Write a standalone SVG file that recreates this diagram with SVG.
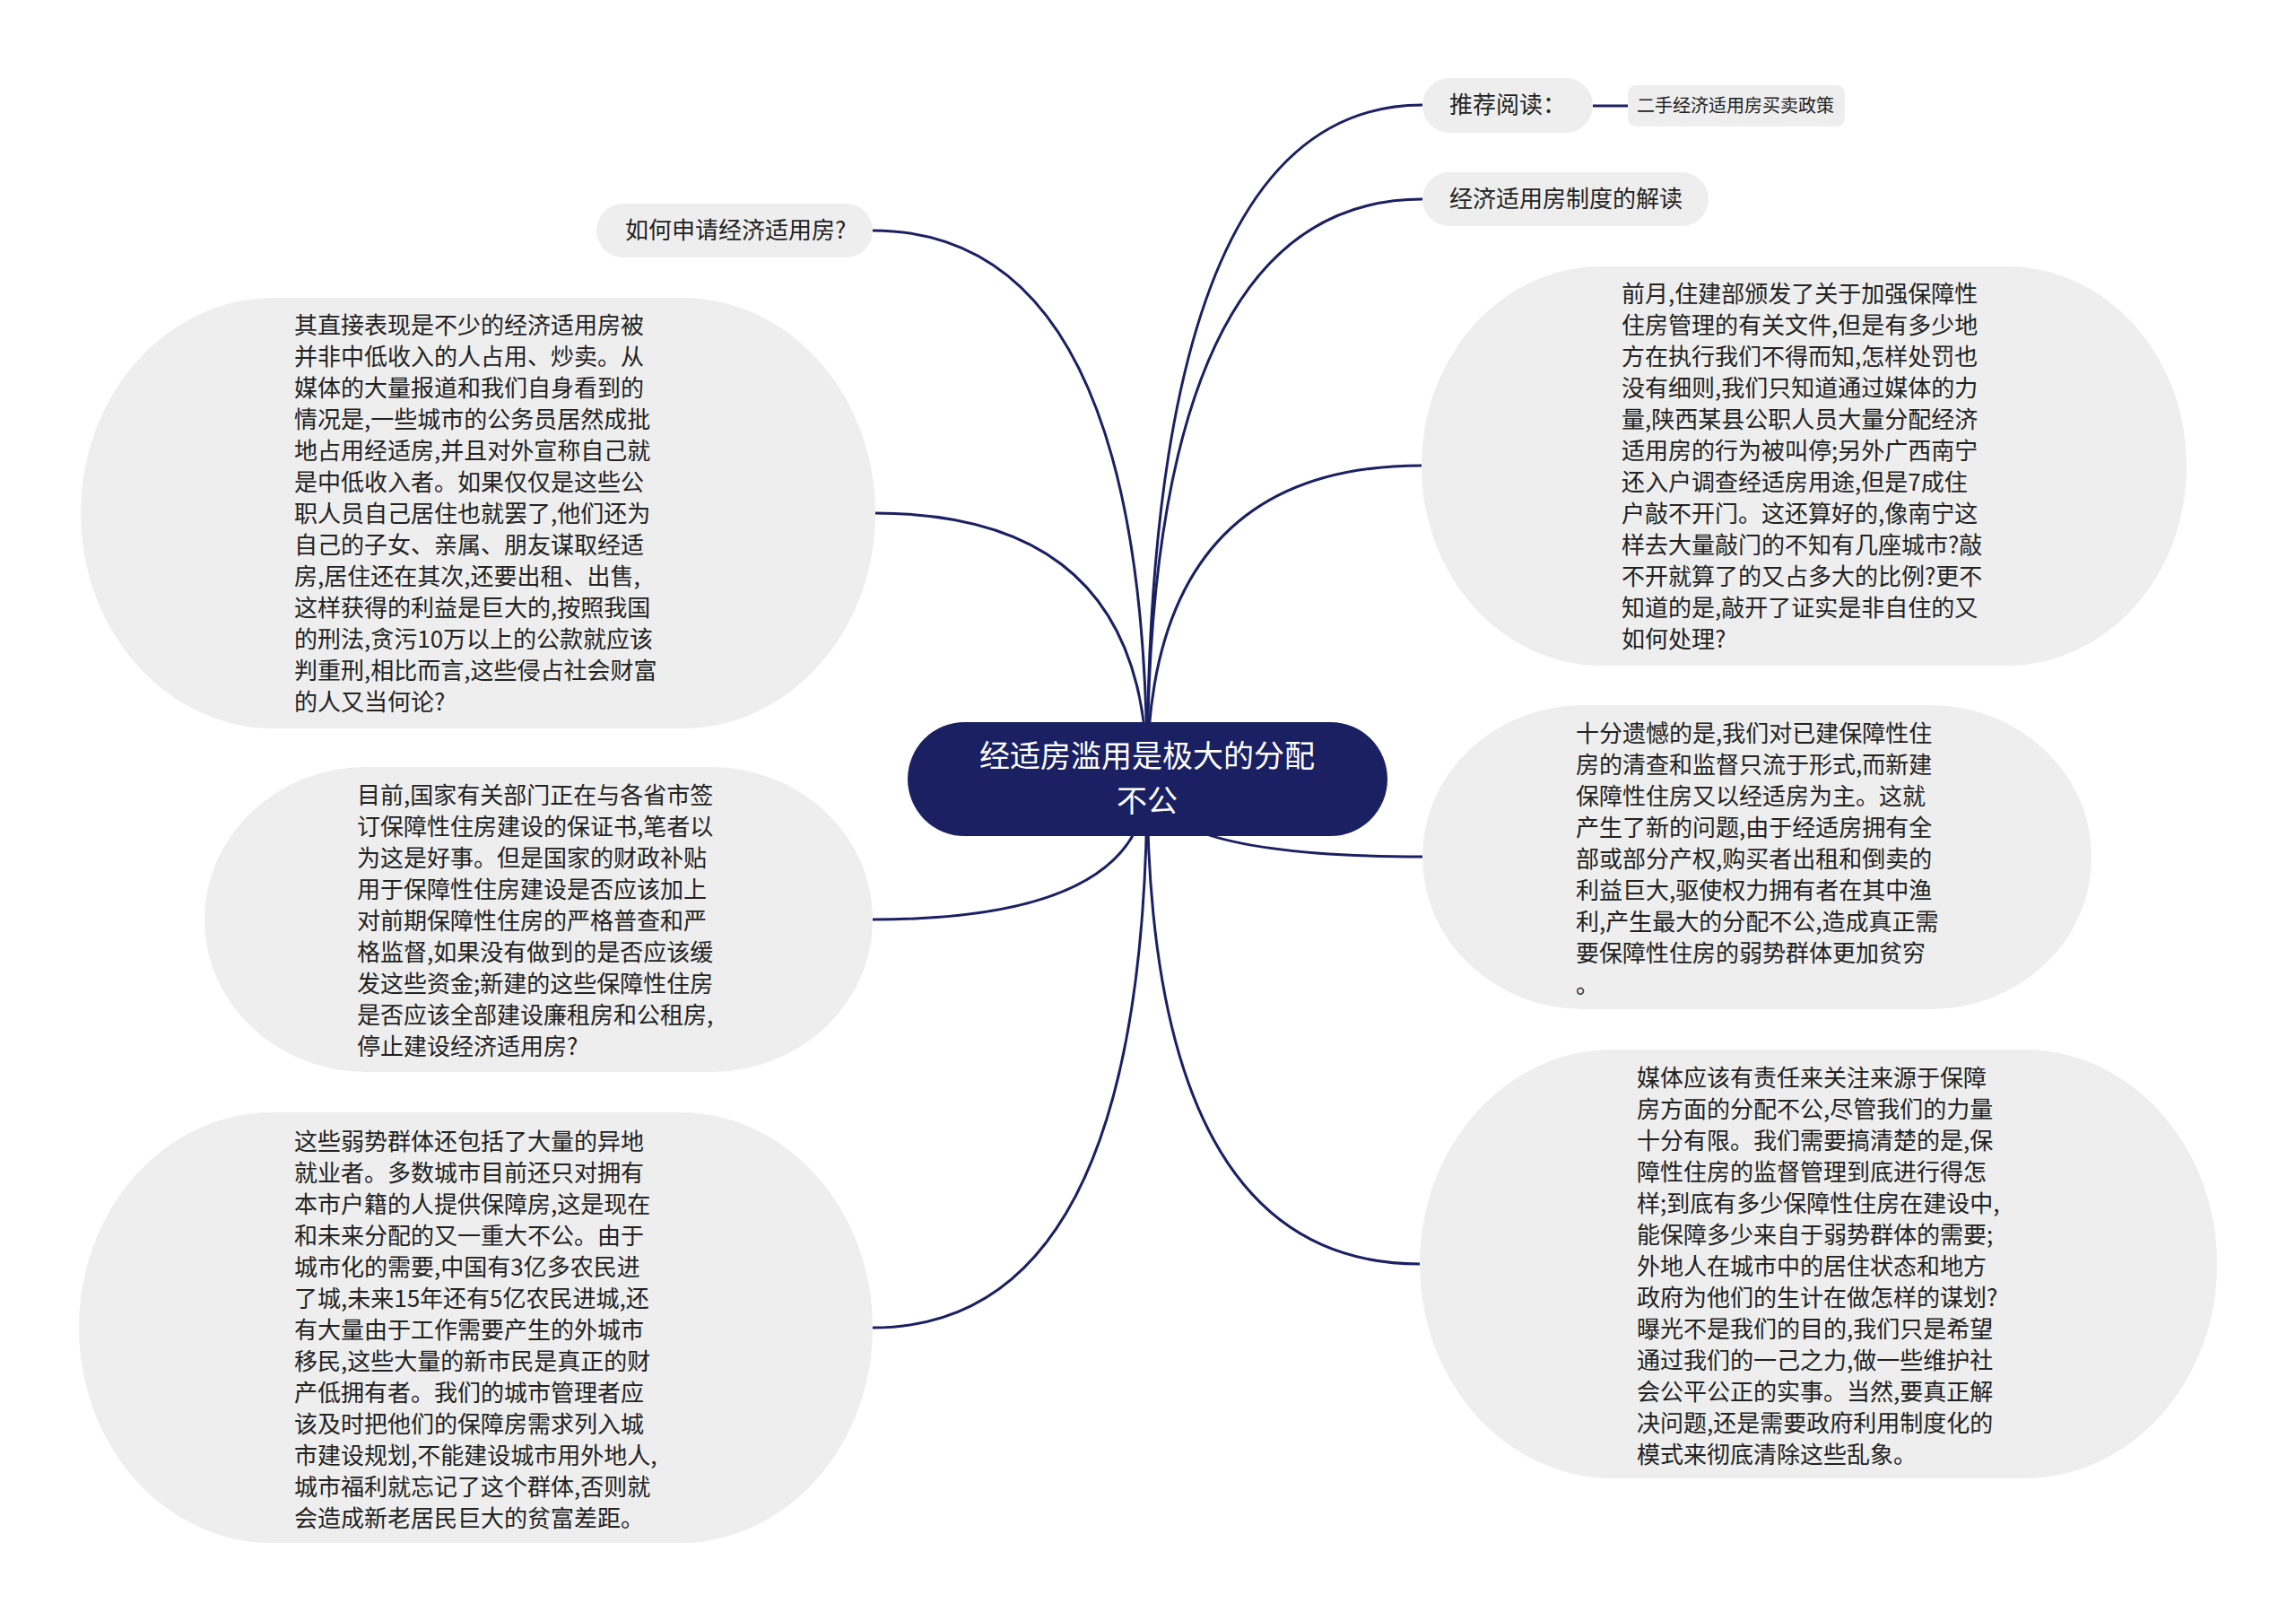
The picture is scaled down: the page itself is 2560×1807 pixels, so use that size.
<svg xmlns="http://www.w3.org/2000/svg" width="2560" height="1807" viewBox="0 0 2560 1807">
<style>
.bg{fill:#ffffff}
.link{fill:none;stroke:#1b2063;stroke-width:3}
.topic{fill:#eeeeee}
.root{fill:#1b2063}
.t{font-family:"Noto Sans CJK SC","Noto Sans",sans-serif;font-size:26px;fill:#222222}
.ts{font-family:"Noto Sans CJK SC","Noto Sans",sans-serif;font-size:20px;fill:#222222}
.tr{font-family:"Noto Sans CJK SC","Noto Sans",sans-serif;font-size:34px;fill:#ffffff;text-anchor:middle}
</style>
<rect class="bg" x="0" y="0" width="2560" height="1807"/>
<g id="connectors">
<path class="link" d="M1279 868 Q1279 117 1586 117"/>
<path class="link" d="M1279 868 Q1279 222 1586 222"/>
<path class="link" d="M1279 868 Q1279 519 1585 519"/>
<path class="link" d="M1279 868 Q1279 955 1586 955"/>
<path class="link" d="M1279 868 Q1279 1409 1583 1409"/>
<path class="link" d="M1279 868 Q1279 257 973 257"/>
<path class="link" d="M1279 868 Q1279 572 976 572"/>
<path class="link" d="M1279 868 Q1279 1025 973 1025"/>
<path class="link" d="M1279 868 Q1279 1480 973 1480"/>
<path class="link" d="M1776 118 L1815 118"/>
</g>
<g id="root">
<rect class="root" x="1012" y="805" width="535" height="127" rx="63.5"/>
<text class="tr" x="1279" y="855"><tspan x="1279" dy="0">经适房滥用是极大的分配</tspan><tspan x="1279" dy="50">不公</tspan></text>
</g>
<g id="n-tuijian">
<rect class="topic" x="1586" y="87" width="190" height="61" rx="30.5"/>
<text class="t" x="1616" y="126">推荐阅读：</text>
</g>
<g id="n-ershou">
<rect class="topic" x="1815" y="95" width="242" height="46" rx="9"/>
<text class="ts" x="1825" y="125">二手经济适用房买卖政策</text>
</g>
<g id="n-jiedu">
<rect class="topic" x="1586" y="192" width="319" height="60" rx="30"/>
<text class="t" x="1616" y="231">经济适用房制度的解读</text>
</g>
<g id="n-ruhe">
<rect class="topic" x="665" y="227" width="308" height="60" rx="30"/>
<text class="t" x="697" y="266">如何申请经济适用房?</text>
</g>
<g id="n-left1">
<rect class="topic" x="90" y="332" width="886" height="480" rx="215" ry="240"/>
<text class="t" x="328" y="372">
<tspan x="328" dy="0">其直接表现是不少的经济适用房被</tspan>
<tspan x="328" dy="35">并非中低收入的人占用、炒卖。从</tspan>
<tspan x="328" dy="35">媒体的大量报道和我们自身看到的</tspan>
<tspan x="328" dy="35">情况是,一些城市的公务员居然成批</tspan>
<tspan x="328" dy="35">地占用经适房,并且对外宣称自己就</tspan>
<tspan x="328" dy="35">是中低收入者。如果仅仅是这些公</tspan>
<tspan x="328" dy="35">职人员自己居住也就罢了,他们还为</tspan>
<tspan x="328" dy="35">自己的子女、亲属、朋友谋取经适</tspan>
<tspan x="328" dy="35">房,居住还在其次,还要出租、出售,</tspan>
<tspan x="328" dy="35">这样获得的利益是巨大的,按照我国</tspan>
<tspan x="328" dy="35">的刑法,贪污10万以上的公款就应该</tspan>
<tspan x="328" dy="35">判重刑,相比而言,这些侵占社会财富</tspan>
<tspan x="328" dy="35">的人又当何论?</tspan>
</text>
</g>
<g id="n-left2">
<rect class="topic" x="228" y="855" width="745" height="340" rx="180" ry="170"/>
<text class="t" x="398" y="896">
<tspan x="398" dy="0">目前,国家有关部门正在与各省市签</tspan>
<tspan x="398" dy="35">订保障性住房建设的保证书,笔者以</tspan>
<tspan x="398" dy="35">为这是好事。但是国家的财政补贴</tspan>
<tspan x="398" dy="35">用于保障性住房建设是否应该加上</tspan>
<tspan x="398" dy="35">对前期保障性住房的严格普查和严</tspan>
<tspan x="398" dy="35">格监督,如果没有做到的是否应该缓</tspan>
<tspan x="398" dy="35">发这些资金;新建的这些保障性住房</tspan>
<tspan x="398" dy="35">是否应该全部建设廉租房和公租房,</tspan>
<tspan x="398" dy="35">停止建设经济适用房?</tspan>
</text>
</g>
<g id="n-left3">
<rect class="topic" x="88" y="1240" width="885" height="480" rx="215" ry="240"/>
<text class="t" x="328" y="1282">
<tspan x="328" dy="0">这些弱势群体还包括了大量的异地</tspan>
<tspan x="328" dy="35">就业者。多数城市目前还只对拥有</tspan>
<tspan x="328" dy="35">本市户籍的人提供保障房,这是现在</tspan>
<tspan x="328" dy="35">和未来分配的又一重大不公。由于</tspan>
<tspan x="328" dy="35">城市化的需要,中国有3亿多农民进</tspan>
<tspan x="328" dy="35">了城,未来15年还有5亿农民进城,还</tspan>
<tspan x="328" dy="35">有大量由于工作需要产生的外城市</tspan>
<tspan x="328" dy="35">移民,这些大量的新市民是真正的财</tspan>
<tspan x="328" dy="35">产低拥有者。我们的城市管理者应</tspan>
<tspan x="328" dy="35">该及时把他们的保障房需求列入城</tspan>
<tspan x="328" dy="35">市建设规划,不能建设城市用外地人,</tspan>
<tspan x="328" dy="35">城市福利就忘记了这个群体,否则就</tspan>
<tspan x="328" dy="35">会造成新老居民巨大的贫富差距。</tspan>
</text>
</g>
<g id="n-right1">
<rect class="topic" x="1585" y="297" width="853" height="445" rx="200" ry="222"/>
<text class="t" x="1808" y="337">
<tspan x="1808" dy="0">前月,住建部颁发了关于加强保障性</tspan>
<tspan x="1808" dy="35">住房管理的有关文件,但是有多少地</tspan>
<tspan x="1808" dy="35">方在执行我们不得而知,怎样处罚也</tspan>
<tspan x="1808" dy="35">没有细则,我们只知道通过媒体的力</tspan>
<tspan x="1808" dy="35">量,陕西某县公职人员大量分配经济</tspan>
<tspan x="1808" dy="35">适用房的行为被叫停;另外广西南宁</tspan>
<tspan x="1808" dy="35">还入户调查经适房用途,但是7成住</tspan>
<tspan x="1808" dy="35">户敲不开门。这还算好的,像南宁这</tspan>
<tspan x="1808" dy="35">样去大量敲门的不知有几座城市?敲</tspan>
<tspan x="1808" dy="35">不开就算了的又占多大的比例?更不</tspan>
<tspan x="1808" dy="35">知道的是,敲开了证实是非自住的又</tspan>
<tspan x="1808" dy="35">如何处理?</tspan>
</text>
</g>
<g id="n-right2">
<rect class="topic" x="1586" y="786" width="746" height="339" rx="180" ry="169"/>
<text class="t" x="1757" y="827">
<tspan x="1757" dy="0">十分遗憾的是,我们对已建保障性住</tspan>
<tspan x="1757" dy="35">房的清查和监督只流于形式,而新建</tspan>
<tspan x="1757" dy="35">保障性住房又以经适房为主。这就</tspan>
<tspan x="1757" dy="35">产生了新的问题,由于经适房拥有全</tspan>
<tspan x="1757" dy="35">部或部分产权,购买者出租和倒卖的</tspan>
<tspan x="1757" dy="35">利益巨大,驱使权力拥有者在其中渔</tspan>
<tspan x="1757" dy="35">利,产生最大的分配不公,造成真正需</tspan>
<tspan x="1757" dy="35">要保障性住房的弱势群体更加贫穷</tspan>
<tspan x="1757" dy="35">。</tspan>
</text>
</g>
<g id="n-right3">
<rect class="topic" x="1583" y="1170" width="889" height="478" rx="215" ry="239"/>
<text class="t" x="1825" y="1211">
<tspan x="1825" dy="0">媒体应该有责任来关注来源于保障</tspan>
<tspan x="1825" dy="35">房方面的分配不公,尽管我们的力量</tspan>
<tspan x="1825" dy="35">十分有限。我们需要搞清楚的是,保</tspan>
<tspan x="1825" dy="35">障性住房的监督管理到底进行得怎</tspan>
<tspan x="1825" dy="35">样;到底有多少保障性住房在建设中,</tspan>
<tspan x="1825" dy="35">能保障多少来自于弱势群体的需要;</tspan>
<tspan x="1825" dy="35">外地人在城市中的居住状态和地方</tspan>
<tspan x="1825" dy="35">政府为他们的生计在做怎样的谋划?</tspan>
<tspan x="1825" dy="35">曝光不是我们的目的,我们只是希望</tspan>
<tspan x="1825" dy="35">通过我们的一己之力,做一些维护社</tspan>
<tspan x="1825" dy="35">会公平公正的实事。当然,要真正解</tspan>
<tspan x="1825" dy="35">决问题,还是需要政府利用制度化的</tspan>
<tspan x="1825" dy="35">模式来彻底清除这些乱象。</tspan>
</text>
</g>
</svg>
